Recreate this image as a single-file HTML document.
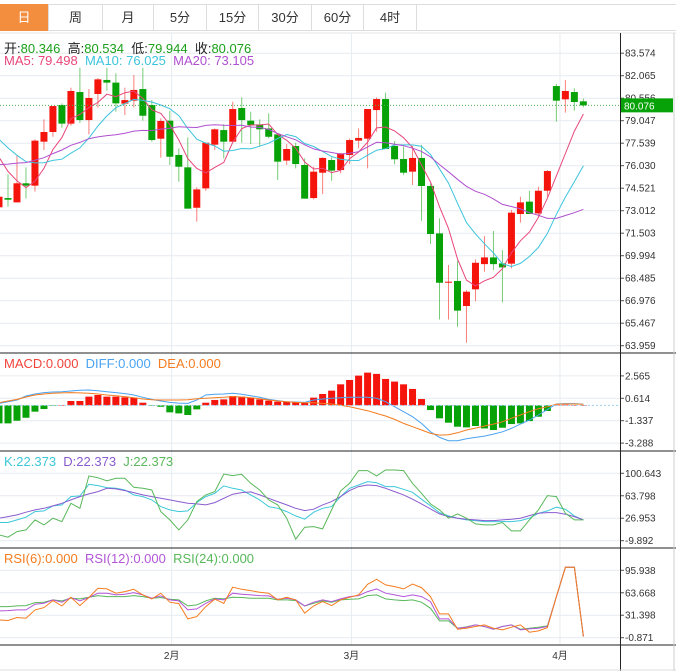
<!DOCTYPE html>
<html><head><meta charset="utf-8"><style>
body{margin:0;background:#fff;font-family:"Liberation Sans","Noto Sans CJK SC",sans-serif;}
#wrap{position:relative;width:676px;height:671px;overflow:hidden;}
.tab{position:absolute;top:4px;height:27px;line-height:27px;text-align:center;font-size:13px;color:#333;border-right:1px solid #ddd;box-sizing:border-box;z-index:2;}
.info{position:absolute;left:4px;font-size:13px;white-space:nowrap;z-index:2;}
</style></head><body>
<div id="wrap">
<svg id="svg" width="676" height="671" style="position:absolute;left:0;top:0;pointer-events:none;z-index:1"></svg>
<div style="position:absolute;left:0;top:4px;width:676px;height:27px;border-top:1px solid #ddd;border-bottom:1px solid #ddd;box-sizing:border-box;z-index:2;"></div>
<div class="tab" style="left:0;width:49px;background:#f38e3f;color:#fff;">日</div>
<div class="tab" style="left:49px;width:54px;">周</div>
<div class="tab" style="left:103px;width:51px;">月</div>
<div class="tab" style="left:154px;width:53px;">5分</div>
<div class="tab" style="left:207px;width:52px;">15分</div>
<div class="tab" style="left:259px;width:53px;">30分</div>
<div class="tab" style="left:312px;width:52px;">60分</div>
<div class="tab" style="left:364px;width:53px;">4时</div>
<div class="info" style="top:38px;color:#222;">开:<span style="color:#1aa01a">80.346</span>&nbsp; 高:<span style="color:#1aa01a">80.534</span>&nbsp; 低:<span style="color:#1aa01a">79.944</span>&nbsp; 收:<span style="color:#1aa01a">80.076</span></div>
<div class="info" style="top:53px;"><span style="color:#e8457a">MA5: 79.498</span>&nbsp; <span style="color:#3cc4dc">MA10: 76.025</span>&nbsp; <span style="color:#b050d0">MA20: 73.105</span></div>
<div class="info" style="top:356px;"><span style="color:#f0433a">MACD:0.000</span>&nbsp; <span style="color:#4aa3f0">DIFF:0.000</span>&nbsp; <span style="color:#f57c1f">DEA:0.000</span></div>
<div class="info" style="top:454px;"><span style="color:#3cc8d8">K:22.373</span>&nbsp; <span style="color:#8a5cd0">D:22.373</span>&nbsp; <span style="color:#58b85a">J:22.373</span></div>
<div class="info" style="top:551px;"><span style="color:#f57c1f">RSI(6):0.000</span>&nbsp; <span style="color:#b356d8">RSI(12):0.000</span>&nbsp; <span style="color:#58b85a">RSI(24):0.000</span></div>
</div>
<script>
const opens=[73.24,73.86,73.57,74.85,74.69,77.64,78.29,80.10,78.85,80.97,79.09,80.84,81.78,81.60,80.19,80.39,81.17,80.10,77.84,79.05,76.75,75.92,73.21,74.51,77.44,78.42,77.64,79.90,79.05,78.80,78.53,78.13,76.37,77.35,76.08,73.86,75.56,76.41,75.74,76.75,77.71,77.84,79.76,80.50,77.35,76.48,75.63,76.55,74.67,71.49,68.22,68.30,66.62,67.74,69.43,69.88,69.48,69.46,72.79,73.62,72.83,74.35,81.37,80.48,80.97,80.346];
const highs=[73.95,75.45,76.75,75.92,77.80,79.14,80.03,80.21,81.26,82.60,81.17,81.91,82.60,82.22,81.26,82.11,82.60,80.43,79.21,79.72,77.19,77.92,74.58,77.57,78.53,78.82,80.32,80.61,79.65,79.14,79.54,78.13,77.48,77.57,76.52,75.96,76.59,76.59,76.86,77.86,78.53,79.83,80.61,80.93,77.68,77.30,77.35,77.42,74.85,72.50,69.37,69.66,67.69,69.75,71.31,71.65,70.37,73.06,73.95,74.35,74.62,75.74,81.51,81.78,81.22,80.534];
const lows=[73.24,73.28,73.57,73.84,74.29,77.08,77.97,78.58,78.71,78.90,78.13,79.92,81.06,79.65,79.43,79.94,79.05,77.64,76.57,76.08,74.96,73.15,72.28,74.35,77.08,76.52,77.64,77.57,77.48,77.30,77.86,75.07,76.08,75.85,73.82,73.77,74.13,75.02,75.52,76.14,77.19,75.85,78.31,77.15,76.12,75.41,74.73,72.34,70.78,65.72,65.72,65.23,64.16,66.95,68.92,69.03,66.87,69.14,72.21,72.79,72.61,73.95,78.98,79.59,79.72,79.944];
const closes=[73.95,73.75,74.85,74.69,77.71,78.29,80.03,78.85,81.04,79.09,80.57,81.82,81.60,80.21,80.43,81.11,79.38,77.75,79.03,76.63,75.96,73.15,74.44,77.57,78.47,77.64,79.83,79.09,78.76,78.47,77.97,76.30,77.15,76.14,73.82,75.63,76.55,75.70,76.86,77.75,77.89,79.83,80.50,77.15,76.46,75.56,76.55,74.67,71.45,68.18,68.25,66.31,67.58,69.52,69.88,69.43,69.21,72.88,73.57,72.79,74.35,75.67,80.39,81.04,80.30,80.076];
const priorCloses=[73,73.5,74,74.5,75,74.5,74,74.8,75.2,75.5,79.5,79.8,79.0,78.5,78.2,78.5,78.0,77.0,75.55];
const priceTicks=[83.574,82.065,80.556,79.047,77.539,76.030,74.521,73.012,71.503,69.994,68.485,66.976,65.467,63.959];
const lastPrice=80.076;
const macdHist=[-1.57,-1.57,-1.34,-1.08,-0.55,-0.32,-0.03,0.02,0.38,0.38,0.76,0.90,0.76,0.76,0.70,0.67,0.23,-0.03,-0.12,-0.61,-0.70,-0.84,-0.35,0.23,0.47,0.52,0.81,0.76,0.67,0.52,0.41,0.32,0.32,0.26,0.23,0.67,0.99,1.28,1.83,2.21,2.59,2.85,2.74,2.30,2.07,1.83,1.43,0.55,-0.41,-1.13,-1.51,-1.86,-1.92,-1.80,-2.01,-2.15,-1.95,-1.63,-1.57,-1.37,-0.99,-0.49,0.05,0.05,0.03,0];
const diffVals=[0.17,0.32,0.47,0.81,0.99,1.11,1.16,1.19,1.25,1.31,1.34,1.28,1.19,1.11,1.02,0.90,0.70,0.52,0.38,0.26,0.20,0.17,0.47,0.90,0.96,0.99,1.05,0.96,0.84,0.70,0.52,0.41,0.32,0.29,0.26,0.47,0.55,0.61,0.67,0.70,0.70,0.70,0.61,0.32,-0.12,-0.55,-0.99,-1.57,-2.30,-2.79,-3.08,-3.08,-2.91,-2.79,-2.68,-2.50,-2.30,-2.01,-1.63,-1.28,-0.84,-0.35,0.12,0.15,0.15,0.09];
const deaVals=[0.23,0.38,0.52,0.73,0.90,0.99,1.05,1.08,1.11,1.08,1.05,0.99,0.90,0.84,0.76,0.67,0.55,0.49,0.47,0.47,0.47,0.49,0.58,0.61,0.67,0.70,0.76,0.73,0.67,0.58,0.47,0.38,0.32,0.26,0.23,0.23,0.17,0.12,0,-0.12,-0.29,-0.47,-0.70,-0.93,-1.22,-1.57,-1.86,-2.15,-2.44,-2.59,-2.56,-2.39,-2.15,-1.98,-1.80,-1.63,-1.43,-1.13,-0.84,-0.55,-0.29,-0.12,0.09,0.12,0.12,0.09];
const macdTicks=[2.565,0.614,-1.337,-3.288];
const kVals=[19.9,19.9,24.2,28.6,37.9,39.0,47.1,48.8,62.4,63.5,82.6,80.4,77.2,76.1,73.3,65.2,62.4,57.0,46.0,40.6,37.9,39.0,52.6,62.4,67.9,79.9,76.1,73.3,65.2,57.0,46.0,43.3,37.9,30.8,25.3,36.8,43.3,46.0,62.4,76.1,81.5,87.0,85.3,78.8,78.8,74.4,69.5,58.1,47.1,36.2,30.8,27.0,24.2,23.1,21.5,21.5,21.5,21.5,23.1,27.0,35.1,39.0,45.0,41.7,30.8,24.2];
const dVals=[27.0,29.7,32.4,36.8,40.6,43.3,47.1,51.5,57.0,62.4,66.8,70.6,76.1,75.0,72.3,69.0,65.2,62.4,59.7,57.0,54.3,51.5,50.4,48.8,52.6,59.7,66.3,69.0,70.1,65.2,59.7,54.3,48.8,43.3,39.5,41.7,48.8,54.3,62.4,72.3,78.8,81.5,80.4,76.1,70.6,65.2,58.1,50.4,42.2,34.1,29.7,27.0,25.3,24.2,23.1,23.1,24.2,25.3,27.0,31.3,35.1,36.2,36.2,33.5,29.7,24.2];
const jVals=[-0.3,-4.2,5.1,7.8,24.2,16.0,27.0,21.5,51.5,43.3,96.3,93.5,88.1,92.5,92.5,77.7,76.1,73.3,37.9,24.2,7.8,24.2,54.3,65.2,70.6,99.5,96.8,99.0,84.3,73.3,57.0,48.8,27.0,-7.4,12.2,13.3,9.5,40.6,71.7,84.3,105.0,105.0,96.3,106.1,106.1,105.0,84.3,67.9,50.4,40.6,27.0,34.1,27.0,17.7,16.0,16.0,19.9,6.2,6.2,24.2,40.6,64.1,62.4,35.1,24.2,24.2];
const kdjTicks=[100.643,63.798,26.953,-9.892];
const rsi6=[24.7,23.8,28.1,27.1,39.0,42.4,52.4,44.8,57.2,45.3,56.8,70.1,69.2,63.0,65.4,68.7,60.6,54.8,63.0,50.1,48.1,26.2,29.5,43.8,54.4,48.6,71.6,68.7,66.8,64.4,63.0,53.4,57.2,53.4,34.3,44.8,51.0,45.3,53.4,57.2,60.6,75.9,83.0,74.9,72.5,69.2,76.3,71.1,58.2,33.3,33.3,11.3,12.8,15.2,17.5,12.8,10.4,14.2,17.5,7.0,8.9,13.7,58.2,100.2,100.2,0.8];
const rsi12=[37.6,38.1,39.0,39.0,47.2,48.6,53.4,50.1,56.8,52.0,56.8,63.0,63.0,60.6,61.5,63.9,60.6,55.8,59.1,53.4,52.0,39.0,40.5,48.6,54.8,53.4,63.0,61.5,60.6,59.6,59.1,54.4,55.8,53.4,44.8,50.1,53.4,51.0,54.8,58.2,59.6,65.4,69.2,63.0,60.6,58.2,60.6,58.2,51.0,26.2,26.2,12.8,14.2,17.5,15.2,11.3,15.2,17.5,10.4,11.8,12.8,15.2,58.2,100.2,100.2,0.8];
const rsi24=[43.8,43.8,44.8,45.3,49.6,50.1,53.4,52.0,55.8,54.8,57.2,59.6,58.2,58.2,58.2,59.6,58.2,55.8,56.8,54.4,53.4,44.8,46.2,52.0,55.8,54.8,57.2,56.8,55.8,55.8,55.8,53.4,53.4,52.4,44.8,48.6,52.0,50.1,53.4,54.4,54.8,59.6,60.6,54.8,53.4,52.4,53.4,50.1,41.4,23.3,23.3,12.8,14.7,17.5,15.2,11.3,15.2,17.5,11.3,12.8,14.2,16.1,58.2,100.2,100.2,0.8];
const rsiTicks=[95.938,63.668,31.398,-0.871];
const monthLabels=["2月","3月","4月"];
const monthIdx=[19.2,39.2,62.4];

const NS="http://www.w3.org/2000/svg";
const svg=document.getElementById('svg');
function mk(tag,attrs,parent){const e=document.createElementNS(NS,tag);for(const k in attrs)e.setAttribute(k,attrs[k]);(parent||svg).appendChild(e);return e;}
const X0=-1,STEP=8.99,AXIS=620;
function xs(i){return X0+i*STEP;}
function lin(v0,y0,v1,y1){return v=>y0+(v-v0)*(y1-y0)/(v1-v0);}
const yP=lin(82.065,75.7,63.959,345.7);
const yM=lin(0.614,398.3,-1.337,420.7);
const yK=lin(100.643,473.3,-9.892,540.7);
const yR=lin(95.938,570.3,-0.871,637.7);

const defs=mk('defs',{});
const cp=mk('clipPath',{id:'plot'},defs);mk('rect',{x:0,y:33,width:AXIS,height:612},cp);

function grid(ticks,f,name){
  ticks.forEach((t,k)=>{
    const y=f(t);
    const g=mk('line',{x1:0,x2:AXIS,y1:y,y2:y,stroke:'#e6ecf0','stroke-width':1});
    
    mk('line',{x1:AXIS,x2:AXIS+4,y1:y,y2:y,stroke:'#555','stroke-width':1});
    const tx=mk('text',{x:AXIS+5,y:y+3.5,'font-size':10,fill:'#333','font-family':'Liberation Sans, sans-serif'});
    tx.textContent=t.toFixed(3);
    
  });
}
grid(priceTicks,yP,'price');grid(macdTicks,yM,'macd');grid(kdjTicks,yK,'kdj');grid(rsiTicks,yR,'rsi');
monthIdx.forEach((m,k)=>{
  const x=xs(m);
  const l=mk('line',{x1:x,x2:x,y1:33,y2:645,stroke:'#e6ecf0','stroke-width':1});
  
  const t=mk('text',{x:x,y:659,'font-size':10,fill:'#333','text-anchor':'middle','font-family':'Liberation Sans, Noto Sans CJK SC, sans-serif'});
  t.textContent=monthLabels[k];
  
});
[353,451,548,645].forEach(y=>mk('line',{x1:0,x2:676,y1:y,y2:y,stroke:'#222','stroke-width':1}));
mk('line',{x1:0,x2:676,y1:33,y2:33,stroke:'#e6e6e6','stroke-width':1});
mk('line',{x1:AXIS+0.5,x2:AXIS+0.5,y1:33,y2:671,stroke:'#222','stroke-width':1});
mk('line',{x1:674,x2:674,y1:33,y2:671,stroke:'#ccc','stroke-width':1});
mk('line',{x1:0,x2:676,y1:670,y2:670,stroke:'#ddd','stroke-width':1});

const plot=mk('g',{'clip-path':'url(#plot)'});
for(let i=0;i<closes.length;i++){
  const up=closes[i]>=opens[i];const col=up?'#f5140c':'#07a207';const x=xs(i);
  const w=mk('line',{x1:x,x2:x,y1:yP(highs[i]),y2:yP(lows[i]),stroke:col,'stroke-opacity':0.55,'stroke-width':1},plot);
  
  const t=yP(Math.max(opens[i],closes[i])),b=yP(Math.min(opens[i],closes[i]));
  const r=mk('rect',{x:x-3.5,y:t,width:7,height:Math.max(1,b-t),fill:col},plot);
  
}
function ma(n){const all=priorCloses.concat(closes);const out=[];for(let i=0;i<closes.length;i++){const j=i+priorCloses.length;let s=0,c=0;for(let k=j-n+1;k<=j;k++){if(k>=0){s+=all[k];c++;}}out.push(s/c);}return out;}
function line(vals,f,col,name,g){
  const d=vals.map((v,i)=>(i?'L':'M')+xs(i).toFixed(1)+','+f(v).toFixed(1)).join('');
  const p=mk('path',{d:d,fill:'none',stroke:col,'stroke-width':1},g||plot);
  
}
line(ma(5),yP,'#e8457a','ma5-line');line(ma(10),yP,'#3cc4dc','ma10-line');line(ma(20),yP,'#b050d0','ma20-line');
const ly=yP(lastPrice);
const lp=mk('line',{x1:0,x2:AXIS,y1:ly,y2:ly,stroke:'#4caf50','stroke-width':1,'stroke-dasharray':'1,2'});

const lb=mk('rect',{x:AXIS+1,y:ly-7,width:52,height:14,fill:'#07a207'});

const lt=mk('text',{x:AXIS+4,y:ly+4,'font-size':10,fill:'#fff','font-family':'Liberation Sans, sans-serif'});lt.textContent=lastPrice.toFixed(3);
const z0=yM(0);
mk('line',{x1:0,x2:AXIS,y1:z0,y2:z0,stroke:'#9fd3f0','stroke-width':1,'stroke-dasharray':'2,2'});
macdHist.forEach((v,i)=>{
  const y=yM(v);const r=mk('rect',{x:xs(i)-3.5,y:Math.min(y,z0),width:7,height:Math.max(0.5,Math.abs(y-z0)),fill:v>=0?'#f5140c':'#07a207'},plot);
  
});
line(diffVals,yM,'#4aa3f0','diff-line');line(deaVals,yM,'#f57c1f','dea-line');
line(kVals,yK,'#3cc8d8','k-line');line(dVals,yK,'#8a5cd0','d-line');line(jVals,yK,'#58b85a','j-line');
line(rsi24,yR,'#58b85a','rsi24-line');line(rsi12,yR,'#b356d8','rsi12-line');line(rsi6,yR,'#f57c1f','rsi6-line');
</script>
</body></html>
